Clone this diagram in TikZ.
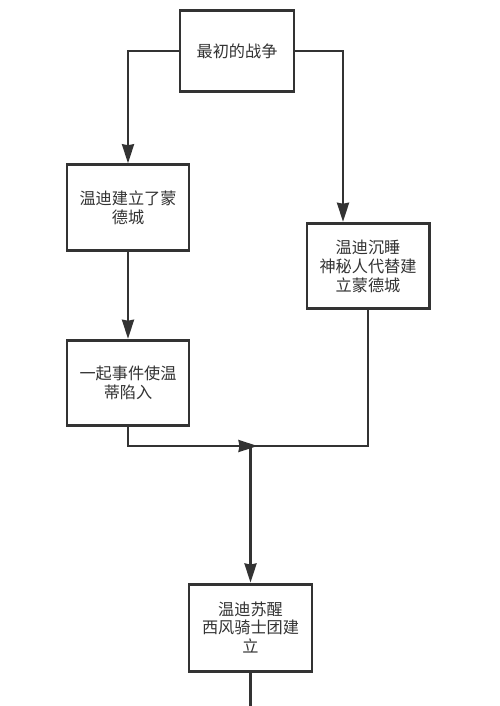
\documentclass[tikz,border=0pt]{standalone}
\usepackage{fontspec}
\setmainfont{Noto Sans CJK SC}
\usepackage{tikz}
\usetikzlibrary{positioning,arrows.meta}
\usepackage{xcolor}
\definecolor{linegray}{HTML}{333333}

\begin{document}
\begin{tikzpicture}[
    >={Stealth[length=0.38cm,width=0.24cm,inset=0.02cm]},
    box/.style={
        rectangle, draw=linegray, line width=1.7pt, fill=white,
        minimum width=2.44cm, minimum height=1.71cm,
        font=\fontsize{9.2}{10.8}\selectfont, text=linegray,
        align=center, inner sep=2pt
    },
    link/.style={draw=linegray, line width=1.5pt},
    arrow/.style={link, ->},
]
\useasboundingbox (0,0) rectangle (10,-14.12);

% Boxes
\node[box, minimum width=2.28cm, minimum height=1.63cm] (war) at (4.74,-1.02) {最初的战争};
\node[box] (build) at (2.56,-4.15) {温迪建立了蒙\\德城};
\node[box] (sleep) at (7.36,-5.32) {温迪沉睡\\神秘人代替建\\立蒙德城};
\node[box, below=1.74cm of build] (event) {一起事件使温\\蒂陷入};
\node[box, minimum width=2.46cm, minimum height=1.74cm] (wake) at (5.01,-12.55) {温迪苏醒\\西风骑士团建\\立};

% Junction and loose end
\coordinate (join) at (wake.north |- 0,-8.92);
\coordinate (tail) at (wake.south |- 0,-14.12);

% Edges
\draw[arrow] (war.west) -| (build.north);
\draw[arrow] (war.east) -| ([xshift=-0.5cm]sleep.north);
\draw[arrow] (build.south) -- (event.north);
\draw[arrow] (event.south) |- ([xshift=0.14cm]join);
\draw[link] (sleep.south) |- (join);
\draw[arrow] (join) -- (wake.north);
\draw[link] (wake.south) -- (tail);

\end{tikzpicture}
\end{document}
